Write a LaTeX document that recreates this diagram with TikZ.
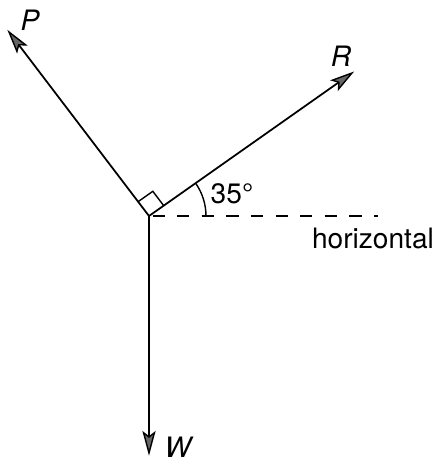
\documentclass[tikz,border=0pt]{standalone}
\usepackage{fontspec}
\setmainfont{TeX Gyre Heros}
\usetikzlibrary{calc}
\usetikzlibrary{angles,quotes}

\tikzset{force/.style={line width=1pt, shorten >=5pt},
  forcehead/.style={line width=0.8pt, line join=miter, draw=black, fill=black!60}}

\begin{document}
\begin{tikzpicture}[x=0.02cm, y=0.02cm, every node/.style={font=\fontsize{16}{19}\selectfont, inner sep=0pt}]
\useasboundingbox (0,0) rectangle (439,461);
\coordinate (O) at (149,245);
\coordinate (Rtip) at (352,388);
\coordinate (Ptip) at (9,429);
\coordinate (Wtip) at (149,8);
\coordinate (H) at (378,245);

\node (P) at (30,441) {\itshape P};
\node (R) at (341,405) {\itshape R};
\node (W) at (178,14) {\itshape W};
\node (ang) at (232,267) {35\textdegree};
\node (hor) at (373,223) {horizontal};

\draw [force] (O) -- (Rtip);
\draw [force] (O) -- (Ptip);
\draw [force] (O) -- (Wtip);
% arrow heads
\foreach \t in {Rtip,Ptip,Wtip}
  \filldraw [forcehead] (\t) -- ($(\t)!0.42cm!15:(O)$) -- ($(\t)!0.32cm!(O)$) -- ($(\t)!0.42cm!-15:(O)$) -- cycle;
\draw [line width=1pt, dash pattern=on 7pt off 7pt, dash phase=-2pt] (O) -- (H);

\path [line width=0.8pt] pic [draw, angle radius=1.14cm] {angle = H--O--Rtip};
\path [line width=0.8pt] pic [draw, angle radius=0.36cm] {right angle = Rtip--O--Ptip};
\end{tikzpicture}
\end{document}
